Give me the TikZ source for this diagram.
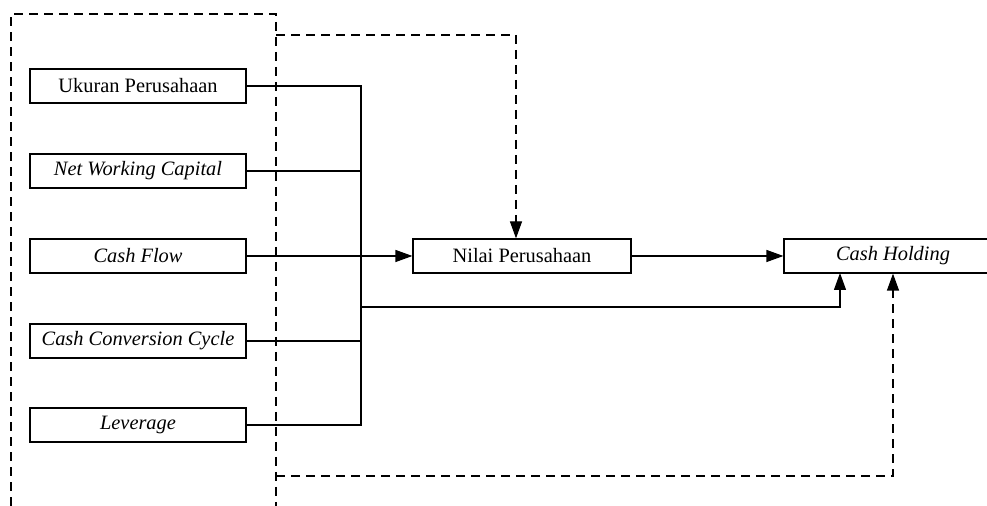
\documentclass[tikz,border=0pt]{standalone}
\usepackage{fontspec}
\setmainfont{Liberation Serif}
\usepackage{tikz}
\usetikzlibrary{arrows.meta}

\begin{document}
\begin{tikzpicture}[x=0.5pt, y=-0.5pt, line width=0.6pt,
    varbox/.style={draw, minimum width=108pt, minimum height=17pt, inner sep=0pt, font=\fontsize{10.2}{12}\selectfont},
    arr/.style={-{Triangle[length=8.5pt,width=6pt]}},
    dashline/.style={dash pattern=on 4.5pt off 3pt}]
    \useasboundingbox (0,0) rectangle (987,506);
    \node[varbox] (ukuran) at (138,86) {Ukuran Perusahaan};
    \node[varbox] (nwc) at (138,171) {\itshape Net Working Capital};
    \node[varbox] (cf) at (138,256) {\itshape Cash Flow};
    \node[varbox] (ccc) at (138,341) {\itshape Cash Conversion Cycle};
    \node[varbox] (lev) at (138,425) {\itshape Leverage};
    \node[varbox, minimum width=109pt] (nilai) at (522,256) {Nilai Perusahaan};
    \node[varbox, minimum width=109pt] (ch) at (893,256) {\itshape Cash Holding};
    % collector line
    \coordinate (ctop) at (361,86);
    \coordinate (cbot) at (361,425);
    \coordinate (csplit) at (361,307);
    \coordinate (chin) at (840,273);
    \draw (ukuran.east) -- (ctop) -- (cbot) -- (lev.east);
    \draw (nwc.east) -- (nwc.east -| ctop);
    \draw (ccc.east) -- (ccc.east -| ctop);
    \draw[arr] (cf.east) -- (nilai.west);
    \draw[arr] (nilai.east) -- (ch.west);
    \draw[arr] (csplit) -| (chin);
    % moderating box
    \coordinate (mtop) at (276,35);
    \coordinate (mbot) at (276,476);
    \draw[dashline] (11,506) -- (11,14) -- (276,14) -- (276,506);
    \draw[dashline, arr] (mtop) -| ([xshift=-3pt]nilai.north);
    \draw[dashline, arr] (mbot) -| (ch.south);
\end{tikzpicture}
\end{document}
